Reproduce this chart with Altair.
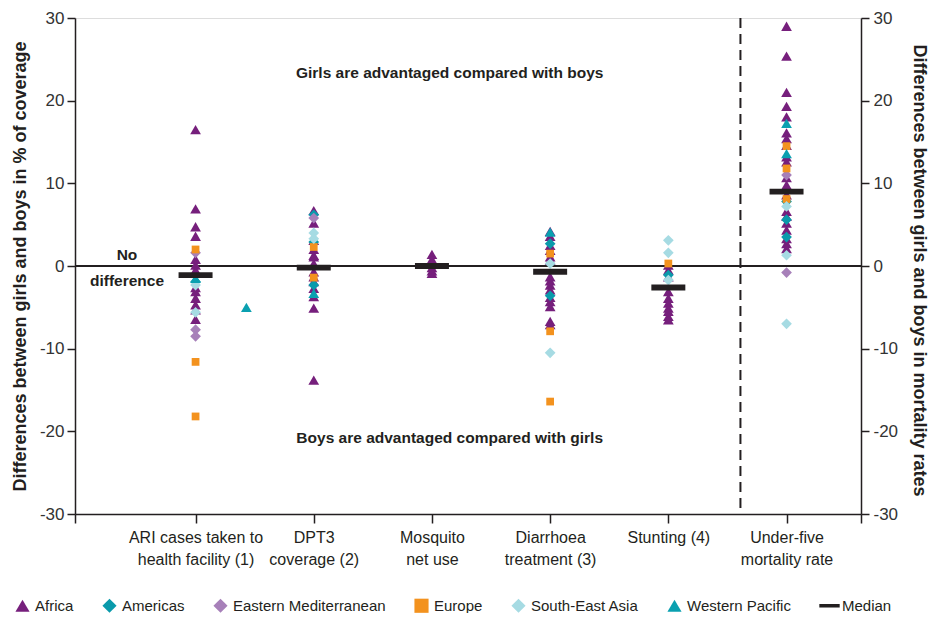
import altair as alt
import pandas as pd

FONT = "Liberation Sans Narrow, Liberation Sans, Arial, sans-serif"

# ---- categories (x positions 1..6) ----
CAT_LINES = [
    ["ARI cases taken to", "health facility (1)"],
    ["DPT3", "coverage (2)"],
    ["Mosquito", "net use"],
    ["Diarrhoea", "treatment (3)"],
    ["Stunting (4)"],
    ["Under-five", "mortality rate"],
]

REGIONS = ["Africa", "Americas", "Eastern Mediterranean", "Europe",
           "South-East Asia", "Western Pacific"]
COLORS = ["#761F7C", "#0A9AAB", "#A780B9", "#F3921E", "#A6DBE3", "#0AA0B0"]
SHAPES = ["triangle-up", "diamond", "diamond", "square", "diamond", "triangle-up"]

# ---- values per category and region ----
ARI = {
    "Africa": [16.5, 6.9, 4.75, 3.6, 0.8, 0.1, -0.5, -2.6, -3.1, -3.9, -4.7, -5.3, -6.45],
    "Americas": [-1.9],
    "Eastern Mediterranean": [1.6, -7.7, -8.5],
    "Europe": [2.0, -11.6, -18.2],
    "South-East Asia": [-2.3, -5.6],
    "Western Pacific": [-1.5],
}
ARI_EXTRA_POS = [1.43]
ARI_EXTRA_VAL = [-5.0]
ARI_EXTRA_REG = ["Western Pacific"]

DPT3 = {
    "Africa": [6.7, 5.2, 3.1, 2.0, 1.3, 1.1, 0.3, -0.7, -1.3, -1.9, -2.7, -3.7, -5.1, -13.8],
    "Americas": [6.2, 2.9, -2.3],
    "Eastern Mediterranean": [5.8],
    "Europe": [2.3, -1.4],
    "South-East Asia": [4.0, 3.3],
    "Western Pacific": [-3.3],
}
MOSQUITO = {
    "Africa": [1.4, 0.8, 0.3, -0.2, -0.6, -0.9],
}
DIARRHOEA = {
    "Africa": [4.2, 3.6, 2.5, 1.9, 1.1, 0.7, -1.3, -1.8, -2.3, -2.9, -3.8, -4.3, -4.9, -6.7, -7.1],
    "Americas": [2.7, -3.6],
    "Europe": [1.5, -7.9, -16.4],
    "South-East Asia": [0.3, -10.5],
    "Western Pacific": [4.1],
}
STUNTING = {
    "Africa": [0.1, -0.5, -1.3, -3.1, -3.9, -4.5, -5.1, -5.5, -6.1, -6.5],
    "Americas": [-1.1],
    "Europe": [0.3],
    "South-East Asia": [3.1, 1.6, -1.7],
}
UNDER_FIVE = {
    "Africa": [29.0, 25.4, 21.0, 19.3, 18.05, 16.1, 15.4, 14.6, 13.2, 12.6, 10.7, 9.8,
               8.6, 6.6, 6.0, 5.2, 4.35, 3.3, 2.7, 2.1],
    "Americas": [7.8, 5.6, 3.5],
    "Eastern Mediterranean": [11.0, -0.8],
    "Europe": [14.5, 11.8, 8.1],
    "South-East Asia": [7.2, 1.3, -7.0],
    "Western Pacific": [17.25, 13.6],
}
MEDIANS = [-1.1, -0.2, 0.0, -0.7, -2.6, 9.0]

ANNOT_TEXT = ["Girls are advantaged compared with boys",
              "Boys are advantaged compared with girls",
              "No\ndifference"]
ANNOT_X = [3.15, 3.15, 0.42]
ANNOT_Y = [23.35, -20.8, 1.3]

ZERO = [0]
DIVIDER_X = [5.61]
X_DOMAIN = [-0.02, 6.63]
Y_TICKS = [-30, -20, -10, 0, 10, 20, 30]

# ---- build tables ----
rows = []
for i, cat in enumerate([ARI, DPT3, MOSQUITO, DIARRHOEA, STUNTING, UNDER_FIVE]):
    for reg in REGIONS:
        for v in cat.get(reg, []):
            rows.append({"x": i + 1, "y": v, "region": reg})
for p, v, r in zip(ARI_EXTRA_POS, ARI_EXTRA_VAL, ARI_EXTRA_REG):
    rows.append({"x": p, "y": v, "region": r})
points_df = pd.DataFrame(rows)

median_df = pd.DataFrame({"x": list(range(1, 7)), "y": MEDIANS, "region": ["Median"] * 6})
annot_df = pd.DataFrame({"x": ANNOT_X, "y": ANNOT_Y, "t": ANNOT_TEXT})

label_expr = ""
for i, lines in enumerate(CAT_LINES):
    arr = "[" + ",".join("'" + s + "'" for s in lines) + "]"
    label_expr += f"datum.value == {i + 1} ? {arr} : "
label_expr += "''"

x_scale = alt.Scale(domain=X_DOMAIN, nice=False, zero=False)
y_scale = alt.Scale(domain=[-30, 30], nice=False, zero=False)

x_axis = alt.Axis(values=[X_DOMAIN[0], 1, 2, 3, 4, 5, 6, X_DOMAIN[1]], labelExpr=label_expr,
                  grid=False, tickSize=9, tickColor="#231F20", domainColor="#231F20",
                  domainWidth=1.5, tickWidth=1.5, labelFontSize=16, labelLineHeight=22,
                  labelPadding=6, title=None, labelColor="#231F20", labelFont=FONT,
                  labelAngle=0, labelAlign="center", labelBaseline="top",
                  labelFlush=False, labelOverlap=False, labelBound=False)

left_axis = alt.Axis(values=Y_TICKS, labelExpr="'' + datum.value", grid=False, tickSize=8,
                     tickColor="#231F20", domainColor="#231F20", domainWidth=1.5, tickWidth=1.5,
                     labelFontSize=17, labelPadding=3, labelFont=FONT, labelColor="#333333",
                     labelFlush=False,
                     title="Differences between girls and boys in % of coverage",
                     titleFont=FONT, titleFontSize=18, titleFontWeight="bold",
                     titleColor="#231F20", titleX=-55, titleY=248, titleAngle=270,
                     titleAlign="center", titleBaseline="middle")

right_axis = alt.Axis(values=Y_TICKS, labelExpr="'' + datum.value", grid=False, tickSize=8,
                      orient="right",
                      tickColor="#231F20", domainColor="#231F20", domainWidth=1.5, tickWidth=1.5,
                      labelFontSize=17, labelPadding=4, labelFont=FONT, labelColor="#333333",
                      labelFlush=False,
                      title="Differences between girls and boys in mortality rates",
                      titleFont=FONT, titleFontSize=18, titleFontWeight="bold",
                      titleColor="#231F20", titleX=57, titleY=252, titleAngle=90,
                      titleAlign="center", titleBaseline="middle")

legend = alt.Legend(orient="none", legendX=-60, legendY=580, direction="horizontal",
                    columns=7, columnPadding=28, symbolSize=200, labelFontSize=15,
                    labelFont=FONT, labelColor="#231F20", title=None, symbolStrokeWidth=0,
                    labelOffset=5, symbolOpacity=1, padding=0, labelLimit=300)

color_scale = alt.Scale(domain=REGIONS + ["Median"], range=COLORS + ["#231F20"])
shape_scale = alt.Scale(domain=REGIONS + ["Median"],
                        range=SHAPES + ["M-1.44,-0.25H1.44V0.25H-1.44Z"])

def ys():
    return alt.Y("y:Q", scale=y_scale, axis=left_axis)

def xs():
    return alt.X("x:Q", scale=x_scale, axis=x_axis)

divider = alt.Chart(pd.DataFrame({"x": DIVIDER_X})).mark_rule(
    color="#231F20", strokeWidth=2, strokeDash=[10, 6]).encode(x=xs())

points = alt.Chart(points_df).transform_calculate(
    sz="datum.region === 'Europe' ? 60 : 115"
).mark_point(filled=True, opacity=1, strokeWidth=0).encode(
    x=xs(), y=ys(),
    color=alt.Color("region:N", scale=color_scale, legend=legend),
    shape=alt.Shape("region:N", scale=shape_scale, legend=legend),
    size=alt.Size("sz:Q", scale=None, legend=None),
)

medians = alt.Chart(median_df).mark_point(filled=True, opacity=1, strokeWidth=0, size=557).encode(
    x=xs(), y=ys(),
    color=alt.Color("region:N", scale=color_scale, legend=legend),
    shape=alt.Shape("region:N", scale=shape_scale, legend=legend),
)

annots = alt.Chart(annot_df).mark_text(
    font=FONT, fontSize=15.5, fontWeight="bold", color="#231F20", lineBreak="\n",
    lineHeight=26, align="center", baseline="middle"
).encode(x=xs(), y=ys(), text="t:N")

main = alt.layer(divider, points, medians, annots)

zero_line = alt.Chart(pd.DataFrame({"y": ZERO})).mark_rule(
    color="#231F20", strokeWidth=2).encode(
    y=alt.Y("y:Q", scale=y_scale, axis=right_axis))

chart = alt.layer(zero_line, main).resolve_scale(y="independent").properties(
    width=786, height=496,
    autosize=alt.AutoSizeParams(type="none"),
    padding={"left": 67, "top": 10, "right": 67, "bottom": 99},
).configure_view(stroke=None).configure(background="white")

chart.save("out.html", embed_options={"renderer": "svg", "actions": False})
